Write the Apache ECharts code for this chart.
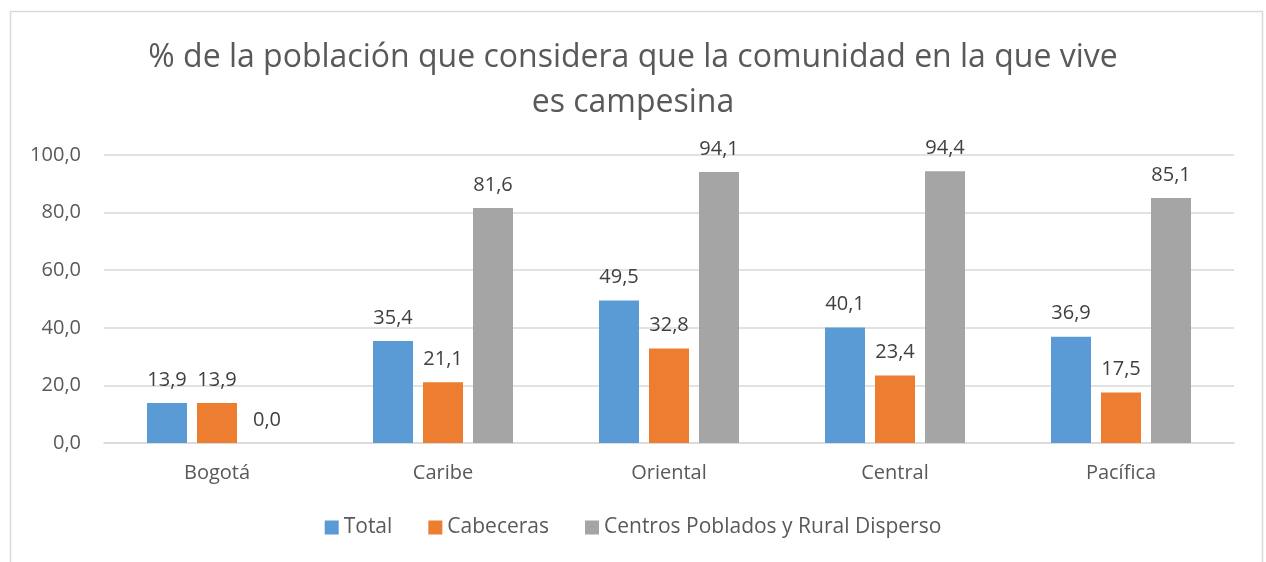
<!DOCTYPE html>
<html>
<head>
<meta charset="utf-8">
<script src="https://cdn.jsdelivr.net/npm/echarts@6/dist/echarts.min.js"></script>
<style>
  html, body { margin: 0; padding: 0; background: #fff; }
  #main { width: 1266px; height: 562px; }
</style>
</head>
<body>
<div id="main"></div>
<script type="text/javascript">
    var regiones = ['Bogotá', 'Caribe', 'Oriental', 'Central', 'Pacífica'];
    var total = [13.9, 35.4, 49.5, 40.1, 36.9];
    var cabeceras = [13.9, 21.1, 32.8, 23.4, 17.5];
    var centrosPoblados = [0.0, 81.6, 94.1, 94.4, 85.1];
    var nombres = ['Total', 'Cabeceras', 'Centros Poblados y Rural Disperso'];

    var fuente = 'Open Sans';
    var coma = function (v) { return Number(v).toFixed(1).replace('.', ','); };

    var myChart = echarts.init(document.getElementById('main'));
    var etiqueta = {
        show: true,
        position: 'top',
        distance: 13,
        color: '#404040',
        fontSize: 20,
        fontFamily: fuente,
        formatter: function (p) { return coma(p.value); }
    };
    option = {
        color: ['#5B9BD5', '#ED7D31', '#A5A5A5'],
        animation: false,
        graphic: [{
            type: 'rect',
            shape: { x: 10.5, y: 11.5, width: 1252, height: 560 },
            style: { fill: 'none', stroke: '#D9D9D9', lineWidth: 1.5 }
        }],
        title: {
            text: '% de la población que considera que la comunidad en la que vive\nes campesina',
            left: 'center',
            top: 30,
            textStyle: {
                color: '#595959',
                fontSize: 32,
                fontWeight: 'normal',
                fontFamily: fuente,
                lineHeight: 45
            }
        },
        legend: {
            data: nombres,
            bottom: 19,
            left: 'center',
            itemWidth: 14,
            itemHeight: 14,
            itemGap: 36,
            icon: 'rect',
            textStyle: { color: '#595959', fontSize: 21, fontFamily: fuente }
        },
        grid: { left: 104, right: 32, top: 155, bottom: 119 },
        xAxis: [{
            type: 'category',
            data: regiones,
            axisTick: { show: false },
            axisLine: { lineStyle: { color: '#D9D9D9', width: 1.5 } },
            axisLabel: { color: '#595959', fontSize: 20, fontFamily: fuente, margin: 20 }
        }],
        yAxis: [{
            type: 'value',
            min: 0,
            max: 100,
            interval: 20,
            axisLine: { show: false },
            axisTick: { show: false },
            splitLine: { lineStyle: { color: '#D9D9D9', width: 1.5 } },
            axisLabel: {
                color: '#595959', fontSize: 20, fontFamily: fuente, margin: 23,
                formatter: function (v) { return coma(v); }
            }
        }],
        series: [
            { name: nombres[0], type: 'bar', data: total, barWidth: 40, barGap: '25%', label: etiqueta },
            { name: nombres[1], type: 'bar', data: cabeceras, barWidth: 40, barGap: '25%', label: etiqueta },
            { name: nombres[2], type: 'bar', data: centrosPoblados, barWidth: 40, barGap: '25%', label: etiqueta }
        ]
    };
    myChart.setOption(option);
</script>
</body>
</html>
